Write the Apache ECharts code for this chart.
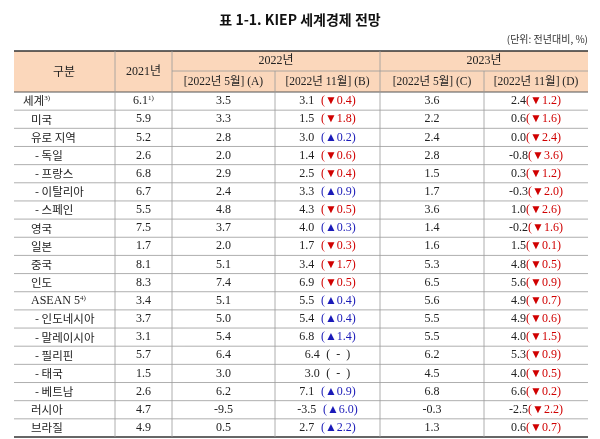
<!DOCTYPE html>
<html>
<head>
<meta charset="utf-8">
<script src="https://cdn.jsdelivr.net/npm/echarts@6/dist/echarts.min.js"></script>
<style>html,body{margin:0;padding:0;background:#fff}#main{width:600px;height:439px}</style>
</head>
<body>
<div id="main"></div>
<script>
const regions = ["세계", "미국", "유로 지역", "- 독일", "- 프랑스", "- 이탈리아", "- 스페인", "영국", "일본", "중국", "인도",
    "ASEAN 5", "- 인도네시아", "- 말레이시아", "- 필리핀", "- 태국", "- 베트남", "러시아", "브라질"];
const regionNotes = { "세계": "3)", "ASEAN 5": "4)" };
const y2021 = [6.1, 5.9, 5.2, 2.6, 6.8, 6.7, 5.5, 7.5, 1.7, 8.1, 8.3, 3.4, 3.7, 3.1, 5.7, 1.5, 2.6, 4.7, 4.9];
const may22A = [3.5, 3.3, 2.8, 2.0, 2.9, 2.4, 4.8, 3.7, 2.0, 5.1, 7.4, 5.1, 5.0, 5.4, 6.4, 3.0, 6.2, -9.5, 0.5];
const nov22B = [3.1, 1.5, 3.0, 1.4, 2.5, 3.3, 4.3, 4.0, 1.7, 3.4, 6.9, 5.5, 5.4, 6.8, 6.4, 3.0, 7.1, -3.5, 2.7];
const may23C = [3.6, 2.2, 2.4, 2.8, 1.5, 1.7, 3.6, 1.4, 1.6, 5.3, 6.5, 5.6, 5.5, 5.5, 6.2, 4.5, 6.8, -0.3, 1.3];
const nov23D = [2.4, 0.6, 0.0, -0.8, 0.3, -0.3, 1.0, -0.2, 1.5, 4.8, 5.6, 4.9, 4.9, 4.0, 5.3, 4.0, 6.6, -2.5, 0.6];

// column edges in grid units (grid is 574 wide)
const edges = [0, 101, 158, 261, 366, 470, 574];
const serif = "'Liberation Serif', 'Noto Sans CJK KR', serif";
const kr = "'Noto Sans CJK KR', sans-serif";

// 2022 series compares B with A, 2023 with C vs D
function change(now, before, gap) {
    let d = Math.round((now - before) * 10) / 10;
    if (d === 0) return gap + "{k|(  -  )}";
    if (d < 0) return gap + "{r|(▼" + Math.abs(d).toFixed(1) + ")}";
    return gap + "{b|(▲" + d.toFixed(1) + ")}";
}

const rich = {
    n: { fontFamily: serif, fontSize: 12, fill: "#222" },
    k: { fontFamily: serif, fontSize: 12, fill: "#222" },
    r: { fontFamily: serif, fontSize: 12, fill: "#d00000" },
    b: { fontFamily: serif, fontSize: 12, fill: "#1a1ab8" },
    s: { fontFamily: serif, fontSize: 7, fill: "#222", verticalAlign: "top", padding: [0, 0, 6, 0] },
    t: { fontFamily: kr, fontSize: 11.5, fill: "#222" }
};

function renderRow(params, api) {
    let i = api.value(0);
    let y = api.coord([0, i])[1];
    let h = api.size([0, 1])[1];
    let x = (v) => api.coord([v, i])[0];
    let mid = (c) => x((edges[c] + edges[c + 1]) / 2);
    let name = regions[i];
    let label = "{t|" + name + "}" + (regionNotes[name] ? "{s|" + regionNotes[name] + "}" : "");
    if (name === "ASEAN 5") label = "{n|ASEAN 5}{s|4)}";
    let nameX = i === 0 ? x(0) + 9 : (name[0] === "-" ? x(0) + 21 : x(0) + 17);
    let children = [
        { type: "text", style: { x: nameX, y: y, text: label, rich: rich, verticalAlign: "middle", align: "left" } },
        { type: "text", style: { x: mid(1), y: y, text: "{n|" + y2021[i].toFixed(1) + "}" + (i === 0 ? "{s|1)}" : ""), rich: rich, align: "center", verticalAlign: "middle" } },
        { type: "text", style: { x: mid(2), y: y, text: "{n|" + may22A[i].toFixed(1) + "}", rich: rich, align: "center", verticalAlign: "middle" } },
        { type: "text", style: { x: mid(3), y: y, text: "{n|" + nov22B[i].toFixed(1) + "}" + change(nov22B[i], may22A[i], "  "), rich: rich, align: "center", verticalAlign: "middle" } },
        { type: "text", style: { x: mid(4), y: y, text: "{n|" + may23C[i].toFixed(1) + "}", rich: rich, align: "center", verticalAlign: "middle" } },
        { type: "text", style: { x: mid(5), y: y, text: "{n|" + nov23D[i].toFixed(1) + "}" + change(nov23D[i], may23C[i], ""), rich: rich, align: "center", verticalAlign: "middle" } }
    ];
    let last = i === regions.length - 1;
    children.push({
        type: "line",
        shape: { x1: x(0), y1: y + h / 2, x2: x(574), y2: y + h / 2 },
        style: { stroke: last ? "#333" : "#9a9a9a", lineWidth: last ? 1.5 : 0.8 }
    });
    for (let c = 1; c < 6; c++) {
        children.push({
            type: "line",
            shape: { x1: x(edges[c]), y1: y - h / 2, x2: x(edges[c]), y2: y + h / 2 },
            style: { stroke: "#9a9a9a", lineWidth: 0.8 }
        });
    }
    return { type: "group", children: children };
}

let chart = echarts.init(document.getElementById("main"));
const L = 14, T = 51, M = 71, B = 92;
const gx = (v) => L + v;
let graphics = [
    { type: "text", left: "center", top: 13, style: { text: "표 1-1. KIEP 세계경제 전망", font: "bold 14px " + kr, fill: "#111" } },
    { type: "text", right: 12, top: 34, style: { text: "(단위: 전년대비, %)", font: "10px " + kr, fill: "#333" } },
    { type: "rect", shape: { x: L, y: T, width: 574, height: B - T }, style: { fill: "#fbd7bb" } },
    { type: "line", shape: { x1: L, y1: T, x2: L + 574, y2: T }, style: { stroke: "#333", lineWidth: 1.5 } },
    { type: "line", shape: { x1: gx(edges[2]), y1: M, x2: L + 574, y2: M }, style: { stroke: "#9a9a9a", lineWidth: 0.8 } },
    { type: "line", shape: { x1: L, y1: B, x2: L + 574, y2: B }, style: { stroke: "#555", lineWidth: 1 } }
];
[1, 2, 4].forEach((c) => graphics.push({ type: "line", shape: { x1: gx(edges[c]), y1: T, x2: gx(edges[c]), y2: B }, style: { stroke: "#9a9a9a", lineWidth: 0.8 } }));
[3, 5].forEach((c) => graphics.push({ type: "line", shape: { x1: gx(edges[c]), y1: M, x2: gx(edges[c]), y2: B }, style: { stroke: "#9a9a9a", lineWidth: 0.8 } }));
let headText = (t, cx, cy, font) => ({ type: "text", style: { text: t, x: cx, y: cy, textAlign: "center", textVerticalAlign: "middle", font: font, fill: "#222" } });
graphics.push(headText("구분", gx(50), (T + B) / 2, "12px " + kr));
graphics.push(headText("2021년", gx((edges[1] + edges[2]) / 2), (T + B) / 2, "12px " + serif));
graphics.push(headText("2022년", gx((edges[2] + edges[4]) / 2), (T + M) / 2, "12px " + serif));
graphics.push(headText("2023년", gx((edges[4] + edges[6]) / 2), (T + M) / 2, "12px " + serif));
const subHeads = ["[2022년 5월] (A)", "[2022년 11월] (B)", "[2022년 5월] (C)", "[2022년 11월] (D)"];
subHeads.forEach((t, k) => graphics.push(headText(t, gx((edges[k + 2] + edges[k + 3]) / 2), (M + B) / 2, "11.5px " + serif)));

chart.setOption({
    animation: false,
    grid: { left: L, top: B, width: 574, bottom: 2 },
    xAxis: { type: "value", min: 0, max: 574, show: false },
    yAxis: { type: "category", data: regions, inverse: true, show: false },
    graphic: graphics,
    series: [{
        type: "custom",
        renderItem: renderRow,
        data: regions.map((r, i) => [i]),
        encode: { x: -1, y: 0 },
        clip: false
    }]
});
</script>
</body>
</html>
